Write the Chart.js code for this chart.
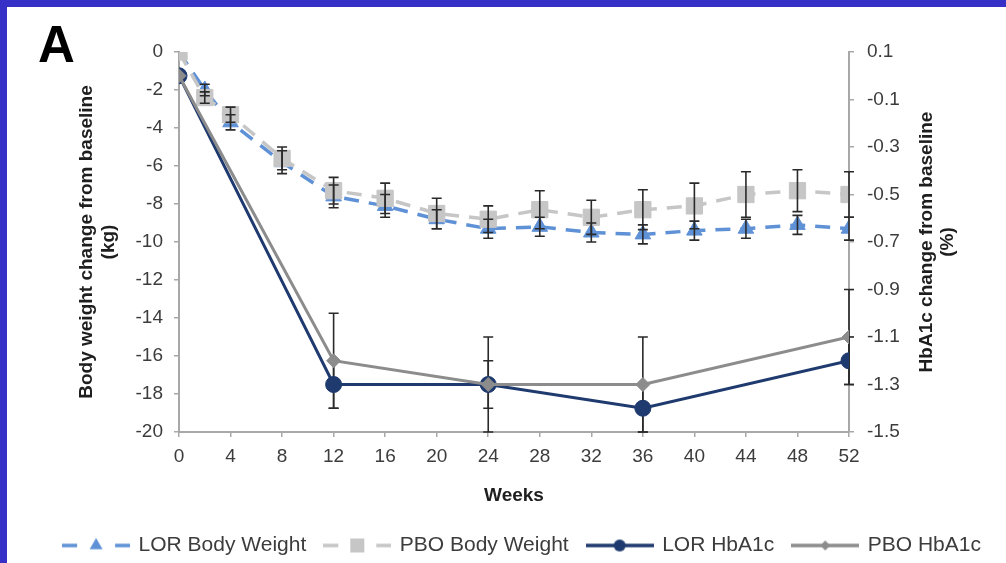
<!DOCTYPE html>
<html>
<head>
<meta charset="utf-8">
<script src="https://cdn.jsdelivr.net/npm/chart.js@4/dist/chart.umd.min.js"></script>
<style>
  html, body { margin: 0; padding: 0; }
  body { background: #3630c6; width: 1006px; height: 563px; overflow: hidden; position: relative; }
  #panel { position: absolute; left: 7px; top: 7px; width: 999px; height: 556px; background: #fff; }
  canvas { display: block; }
</style>
</head>
<body>
<div id="panel"><canvas id="chart" width="999" height="556"></canvas></div>
<script>
// weeks at which each measure was taken
const weeksBW = [0, 2, 4, 8, 12, 16, 20, 24, 28, 32, 36, 40, 44, 48, 52];
const weeksA1c = [0, 12, 24, 36, 52];

// body weight change, kg (left axis)
const lorBodyWeight    = [0, -2.0, -3.7, -5.8, -7.6, -8.1, -8.8, -9.3, -9.2, -9.5, -9.6, -9.4, -9.3, -9.1, -9.3];
const lorBodyWeightErr = [0, 0.3, 0.4, 0.6, 0.6, 0.6, 0.5, 0.5, 0.5, 0.5, 0.5, 0.5, 0.5, 0.5, 0.6];
const pboBodyWeight    = [0, -2.4, -3.3, -5.6, -7.3, -7.7, -8.5, -8.8, -8.3, -8.7, -8.3, -8.1, -7.5, -7.3, -7.5];
const pboBodyWeightErr = [0, 0.3, 0.4, 0.6, 0.7, 0.8, 0.8, 0.7, 1.0, 0.9, 1.05, 1.2, 1.2, 1.1, 1.2];

// HbA1c change, % (right axis)
const lorHbA1c    = [0.0, -1.3, -1.3, -1.4, -1.2];
const lorHbA1cErr = [0, 0.1, 0.1, 0.1, 0.1];
const pboHbA1c    = [0.0, -1.2, -1.3, -1.3, -1.1];
const pboHbA1cErr = [0, 0.2, 0.2, 0.2, 0.2];

// axis ranges / tick steps
const weekTicks = [0, 52, 4];
const weightTicks = [-20, 0, 2];
const hba1cTicks = [-1.5, 0.1, 0.2];

const leftTitle = ['Body weight change from baseline', '(kg)'];
const rightTitle = ['HbA1c change from baseline', '(%)'];
const panelLetter = 'A';

const FONT = '"Liberation Sans", Arial, Helvetica, sans-serif';
Chart.defaults.font.family = FONT;

const BLUE = '#5f91d6';
const LIGHT = '#c6c6c6';
const NAVY = '#1f3a6e';
const GREY = '#8c8c8c';
const AXIS = '#a8a8a8';

const pts = (xs, ys) => xs.map((x, i) => ({ x: x, y: ys[i] }));

// little line + marker picture used as the legend symbol
function swatch(color, dashed, marker, r) {
  const c = document.createElement('canvas');
  c.width = 68; c.height = 20;
  const g = c.getContext('2d');
  g.strokeStyle = color;
  g.fillStyle = color;
  g.lineWidth = 3.5;
  g.beginPath();
  if (dashed) {
    g.moveTo(0, 10); g.lineTo(15, 10);
    g.moveTo(53, 10); g.lineTo(68, 10);
  } else {
    g.moveTo(0, 10); g.lineTo(68, 10);
  }
  g.stroke();
  g.beginPath();
  if (marker === 'triangle') {
    g.moveTo(34, 10 - r);
    g.lineTo(34 + r * 0.866, 10 + r / 2);
    g.lineTo(34 - r * 0.866, 10 + r / 2);
    g.closePath();
  } else if (marker === 'rect') {
    g.rect(34 - r, 10 - r, 2 * r, 2 * r);
  } else if (marker === 'circle') {
    g.arc(34, 10, r, 0, Math.PI * 2);
  } else {
    g.moveTo(34, 10 - r); g.lineTo(34 + r, 10); g.lineTo(34, 10 + r); g.lineTo(34 - r, 10);
    g.closePath();
  }
  g.fill();
  return c;
}

// error bars, drawn from each dataset's "errors" list with the chart's own scales
function drawErrors(chart, layer) {
  const ctx = chart.ctx;
  chart.data.datasets.forEach((ds, i) => {
    if (!ds.errors || ds.errorLayer !== layer) return;
    const meta = chart.getDatasetMeta(i);
    const ys = chart.scales[meta.yAxisID];
    ctx.save();
    ctx.strokeStyle = '#2a2a2a';
    ctx.lineWidth = 1.6;
    meta.data.forEach((pt, j) => {
      const e = ds.errors[j];
      if (!e) return;
      const v = ds.data[j].y;
      const top = ys.getPixelForValue(v + e);
      const bot = ys.getPixelForValue(v - e);
      ctx.beginPath();
      ctx.moveTo(pt.x, top); ctx.lineTo(pt.x, bot);
      ctx.moveTo(pt.x - 5, top); ctx.lineTo(pt.x + 5, top);
      ctx.moveTo(pt.x - 5, bot); ctx.lineTo(pt.x + 5, bot);
      ctx.stroke();
    });
    ctx.restore();
  });
}

const errorBars = {
  id: 'errorBars',
  beforeDatasetsDraw(chart) { drawErrors(chart, 'back'); },
  afterDatasetsDraw(chart) { drawErrors(chart, 'front'); }
};

const extras = {
  id: 'extras',
  afterDraw(chart) {
    const ctx = chart.ctx;
    const area = chart.chartArea;
    ctx.save();
    ctx.fillStyle = '#000';
    ctx.font = 'bold 51px ' + FONT;
    ctx.textBaseline = 'alphabetic';
    ctx.fillText(panelLetter, 31, 55);

    // right title reads bottom to top, like the left one
    const y2 = chart.scales.y2;
    ctx.font = 'bold 19px ' + FONT;
    ctx.fillStyle = '#1e1e1e';
    ctx.textAlign = 'center';
    ctx.textBaseline = 'middle';
    const cy = (area.top + area.bottom) / 2;
    rightTitle.forEach((line, i) => {
      ctx.save();
      ctx.translate(y2.left + 77.5 + i * 21, cy);
      ctx.rotate(-Math.PI / 2);
      ctx.fillText(line, 0, 0);
      ctx.restore();
    });
    ctx.restore();
  }
};

const axisGrid = { drawOnChartArea: false, drawTicks: true, tickLength: 5, color: AXIS, lineWidth: 1.5 };
const axisBorder = { color: AXIS, width: 2 };
const tickFont = { size: 19 };
const titleFont = { size: 19, weight: 'bold', lineHeight: 1.15 };

new Chart(document.getElementById('chart'), {
  type: 'line',
  data: {
    datasets: [
      {
        label: 'LOR Body Weight',
        data: pts(weeksBW, lorBodyWeight),
        errors: lorBodyWeightErr,
        errorLayer: 'front',
        yAxisID: 'y',
        borderColor: BLUE,
        backgroundColor: BLUE,
        borderWidth: 3.5,
        borderDash: [15, 10],
        pointStyle: 'triangle',
        pointRadius: 9,
        pointBorderWidth: 1,
        legendSwatch: swatch(BLUE, true, 'triangle', 7.5),
        order: 3
      },
      {
        label: 'PBO Body Weight',
        data: pts(weeksBW, pboBodyWeight),
        errors: pboBodyWeightErr,
        errorLayer: 'front',
        yAxisID: 'y',
        borderColor: LIGHT,
        backgroundColor: LIGHT,
        borderWidth: 3.5,
        borderDash: [15, 10],
        pointStyle: 'rect',
        pointRadius: 11.5,
        pointBorderWidth: 1,
        legendSwatch: swatch(LIGHT, true, 'rect', 7),
        order: 2
      },
      {
        label: 'LOR HbA1c',
        data: pts(weeksA1c, lorHbA1c),
        errors: lorHbA1cErr,
        errorLayer: 'back',
        yAxisID: 'y2',
        borderColor: NAVY,
        backgroundColor: NAVY,
        borderWidth: 3,
        pointStyle: 'circle',
        pointRadius: 8,
        pointBorderWidth: 1,
        legendSwatch: swatch(NAVY, false, 'circle', 6),
        order: 1
      },
      {
        label: 'PBO HbA1c',
        data: pts(weeksA1c, pboHbA1c),
        errors: pboHbA1cErr,
        errorLayer: 'back',
        yAxisID: 'y2',
        borderColor: GREY,
        backgroundColor: GREY,
        borderWidth: 3,
        pointStyle: 'rectRot',
        pointRadius: 7,
        pointBorderWidth: 1,
        legendSwatch: swatch(GREY, false, 'diamond', 5),
        order: 0
      }
    ]
  },
  options: {
    responsive: false,
    animation: false,
    layout: { padding: { left: 32, top: 45, right: 0, bottom: -3 } },
    plugins: {
      tooltip: { enabled: false },
      legend: {
        position: 'bottom',
        labels: {
          usePointStyle: true,
          pointStyleWidth: 64,
          boxHeight: 21,
          padding: 19,
          color: '#3c3c3c',
          font: { size: 21 },
          generateLabels: (chart) => chart.data.datasets.map((ds, i) => ({
            text: ds.label,
            pointStyle: ds.legendSwatch,
            fillStyle: 'rgba(0,0,0,0)',
            strokeStyle: 'rgba(0,0,0,0)',
            lineWidth: 0,
            hidden: false,
            datasetIndex: i,
            fontColor: '#3c3c3c'
          }))
        }
      }
    },
    scales: {
      x: {
        type: 'linear',
        min: weekTicks[0],
        max: weekTicks[1],
        ticks: { stepSize: weekTicks[2], color: '#3c3c3c', font: tickFont, padding: 8 },
        grid: axisGrid,
        border: axisBorder,
        title: { display: true, text: 'Weeks', color: '#1e1e1e', font: titleFont, padding: { top: 0, bottom: 9 } },
        afterFit: (s) => { s.height = 84; }
      },
      y: {
        position: 'left',
        min: weightTicks[0],
        max: weightTicks[1],
        ticks: { stepSize: weightTicks[2], color: '#3c3c3c', font: tickFont, padding: 11 },
        grid: axisGrid,
        border: axisBorder,
        title: { display: true, text: leftTitle, color: '#1e1e1e', font: titleFont, padding: { top: 37, bottom: 0 } },
        afterFit: (s) => { s.width = 140; }
      },
      y2: {
        position: 'right',
        min: hba1cTicks[0],
        max: hba1cTicks[1],
        ticks: {
          stepSize: hba1cTicks[2],
          color: '#3c3c3c',
          font: tickFont,
          padding: 13,
          callback: (v) => v.toFixed(1)
        },
        grid: axisGrid,
        border: axisBorder,
        afterFit: (s) => { s.width = 157; }
      }
    }
  },
  plugins: [errorBars, extras]
});
</script>
</body>
</html>
